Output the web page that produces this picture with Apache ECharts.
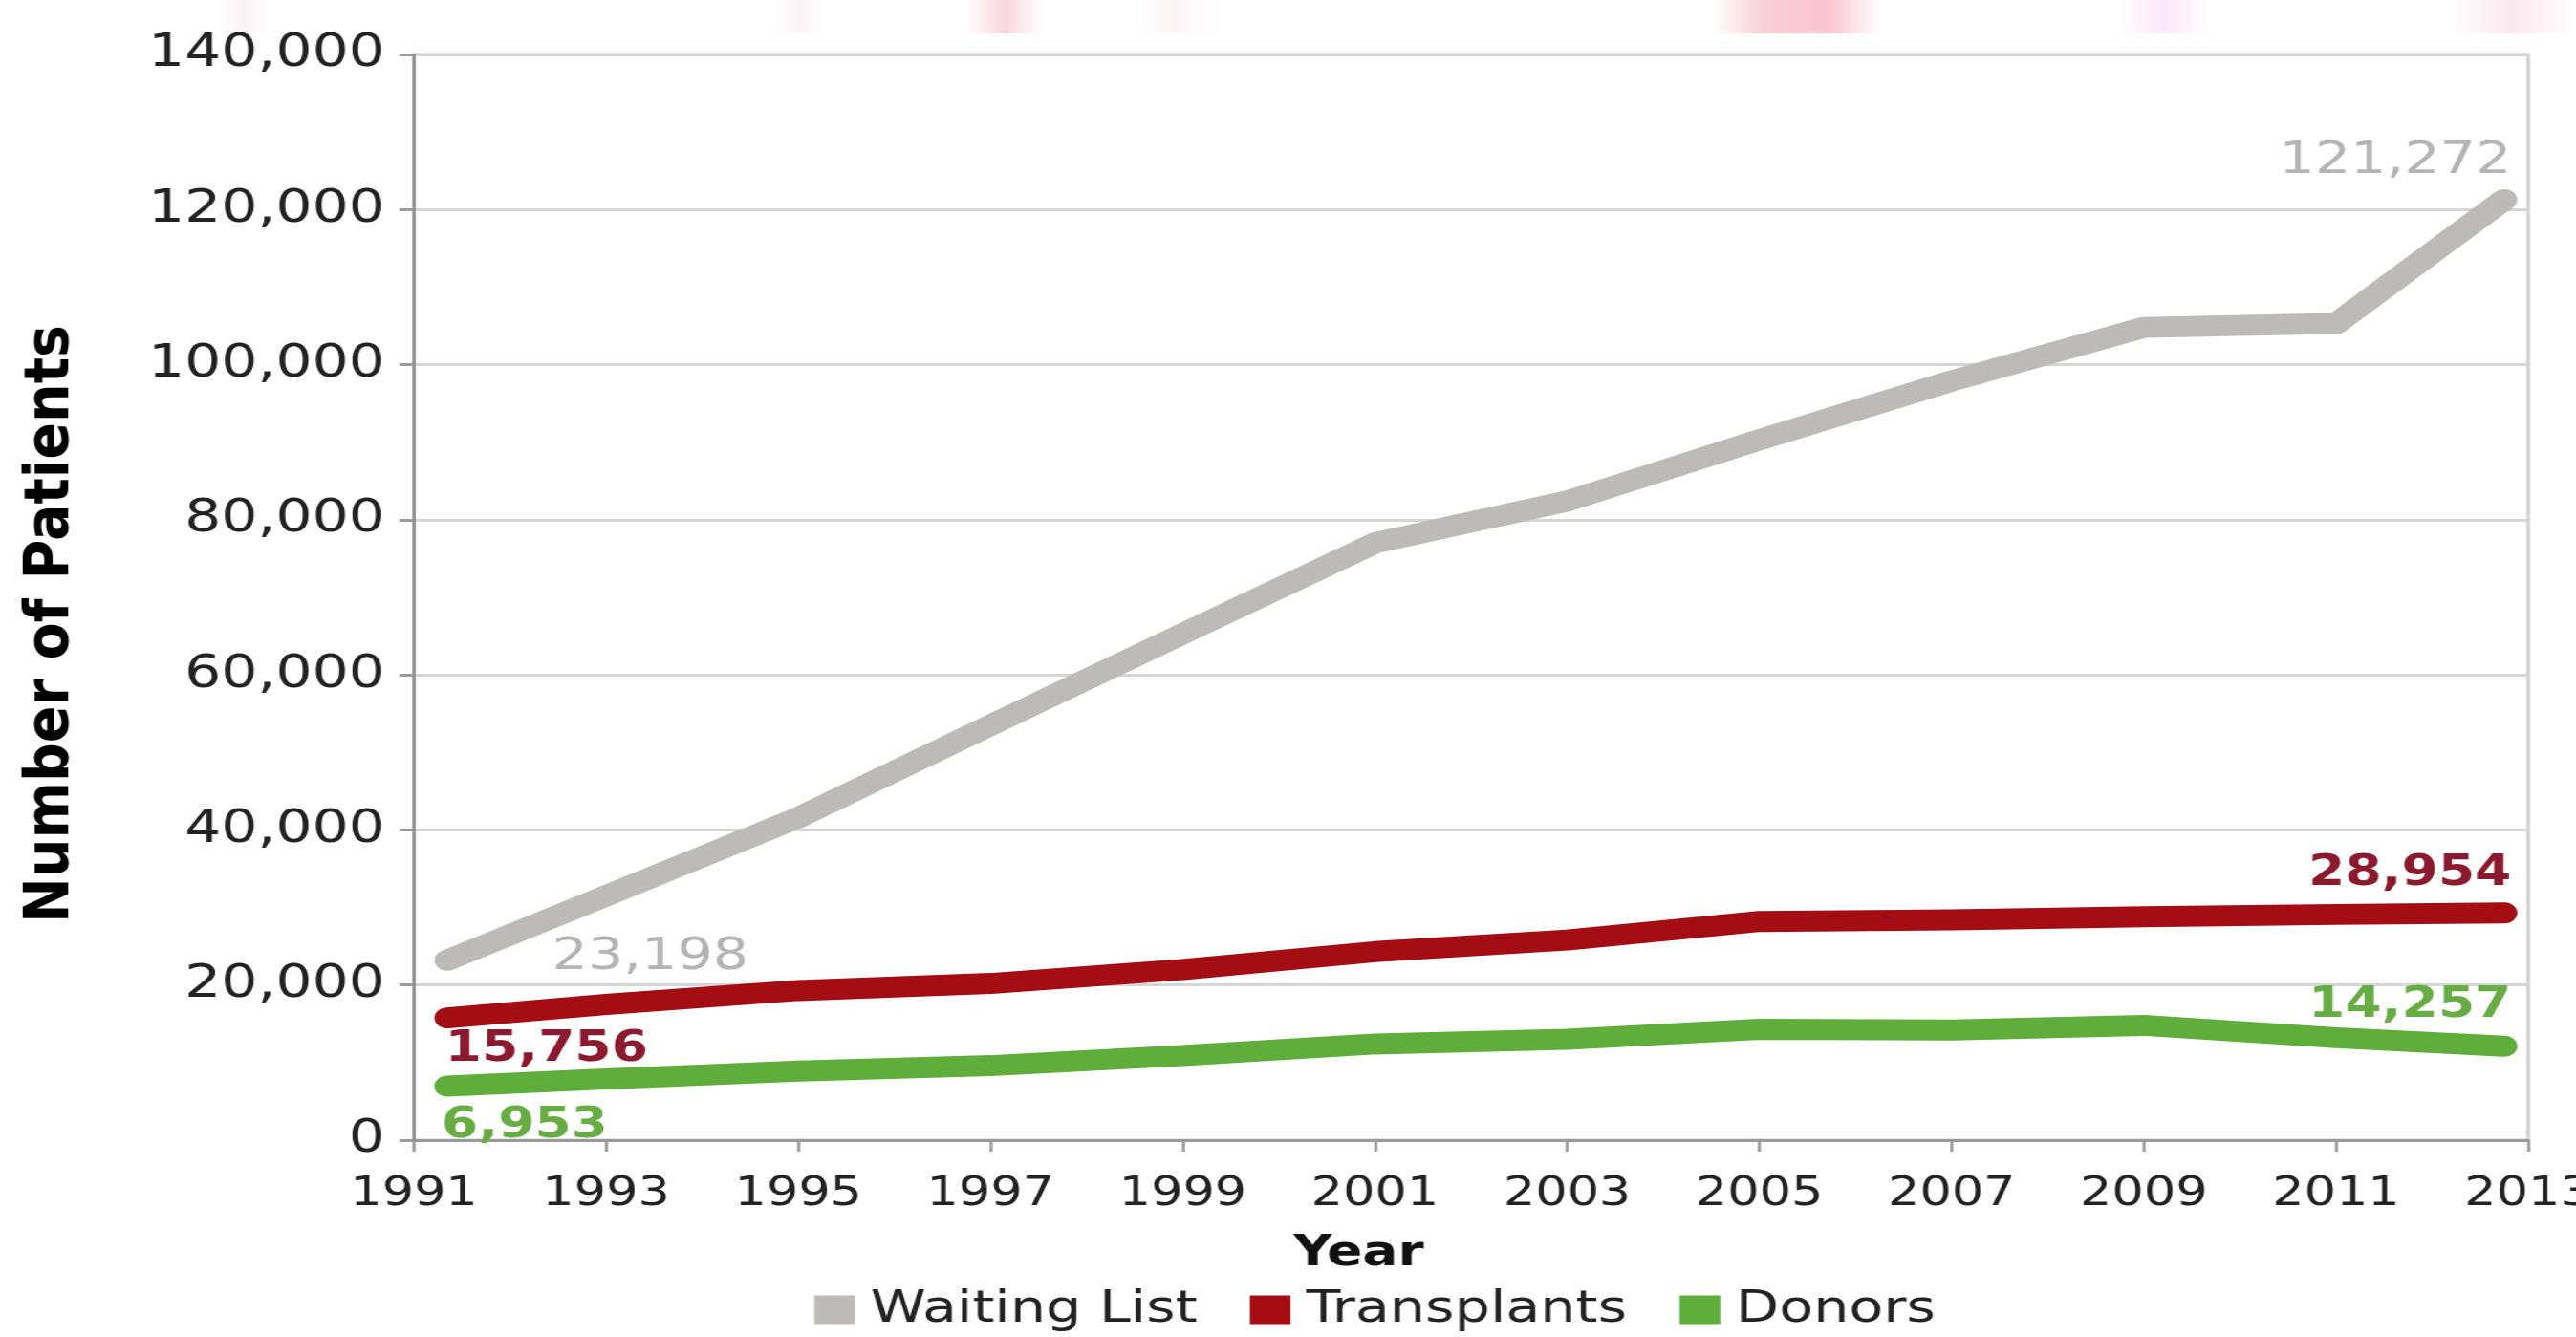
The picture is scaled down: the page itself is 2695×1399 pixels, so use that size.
<!DOCTYPE html>
<html>
<head>
<meta charset="utf-8">
<script src="https://cdn.jsdelivr.net/npm/echarts@6/dist/echarts.min.js"></script>
<style>
html,body{margin:0;padding:0;background:#fff;overflow:hidden;}
#wrap{width:2695px;height:1399px;overflow:hidden;position:relative;}
#chart{width:2156px;height:1399px;transform:scaleX(1.25);transform-origin:0 0;position:absolute;left:0;top:0;}
</style>
</head>
<body>
<div id="wrap"><div id="chart"></div></div>
<script>
// Data
const years = [1991.35, 1993, 1995, 1997, 1999, 2001, 2003, 2005, 2007, 2009, 2011, 2012.75];
const waitingList = [23198, 31500, 41600, 53500, 65300, 77000, 82400, 90300, 97900, 104800, 105300, 121272];
const transplants = [15756, 17500, 19300, 20200, 22000, 24300, 25800, 28200, 28400, 28800, 29100, 29300];
const donors = [6953, 7900, 8900, 9600, 10900, 12400, 13000, 14300, 14200, 14800, 13200, 12100];
const seriesNames = ['Waiting List', 'Transplants', 'Donors'];
const startLabels = ['23,198', '15,756', '6,953'];
const endLabels = ['121,272', '28,954', '14,257'];

const SX = 1.25; // the reference picture is stretched horizontally
const FONT = '"DejaVu Sans", sans-serif';
const lineColors = ['#bdbaba', '#a50d14', '#5fae3c'];
const labelColors = ['#b4b4b4', '#8b1a2e', '#67ad43'];

function buildData(vals, idx, startCfg, endCfg) {
  return years.map((x, i) => {
    const item = { value: [x, vals[i]] };
    if (i === 0) item.label = Object.assign({ show: true, formatter: startLabels[idx] }, startCfg);
    if (i === years.length - 1) item.label = Object.assign({ show: true, formatter: endLabels[idx] }, endCfg);
    return item;
  });
}

const baseLabel = (idx, bold, size) => ({
  color: labelColors[idx], fontSize: size, fontFamily: FONT, fontWeight: bold ? 'bold' : 'normal'
});

const lineSeries = (idx, vals, startCfg, endCfg) => ({
  name: seriesNames[idx], type: 'line', showSymbol: true, symbol: 'circle', symbolSize: 1, z: 2 + idx,
  itemStyle: { color: lineColors[idx] },
  lineStyle: { color: lineColors[idx], width: 22, cap: 'round', join: 'round' },
  emphasis: { disabled: true },
  data: buildData(vals, idx, startCfg, endCfg)
});

const chart = echarts.init(document.getElementById('chart'));
chart.setOption({
  animation: false,
  backgroundColor: '#ffffff',
  textStyle: { fontFamily: FONT },
  grid: { left: 433 / SX, right: 2156 - 2645 / SX, top: 57, bottom: 206, show: true,
    outerBoundsMode: 'none', containLabel: false,
    borderColor: '#d2d2d2', borderWidth: 3, backgroundColor: 'transparent' },
  xAxis: {
    type: 'value', min: 1991, max: 2013, interval: 2,
    axisLine: { show: true, lineStyle: { color: '#9a9a9a', width: 3 } },
    axisTick: { show: true, length: 12, lineStyle: { color: '#9a9a9a', width: 2.5 } },
    axisLabel: { fontSize: 42, color: '#222', margin: 36, formatter: v => String(v), fontFamily: FONT,
      hideOverlap: false },
    splitLine: { show: false },
    name: 'Year', nameLocation: 'middle', nameGap: 98,
    nameTextStyle: { fontSize: 44, fontWeight: 'bold', color: '#111', fontFamily: FONT, padding: [0, 188, 0, 0] }
  },
  yAxis: {
    type: 'value', min: 0, max: 140000, interval: 20000,
    axisLine: { show: true, lineStyle: { color: '#8a8a8a', width: 2.5 } },
    axisTick: { show: true, length: 12, lineStyle: { color: '#9a9a9a', width: 3 } },
    axisLabel: { fontSize: 48, color: '#222', margin: 24, fontFamily: FONT,
      formatter: v => v.toLocaleString('en-US') },
    splitLine: { show: true, lineStyle: { color: '#d6d6d6', width: 3 } }
  },
  legend: {
    left: 852 / SX, bottom: 5, padding: 0, itemWidth: 34, itemHeight: 30, itemGap: 44, icon: 'rect',
    textStyle: { fontSize: 47, lineHeight: 46, color: '#222', fontFamily: FONT, padding: [0, 0, 0, 8] },
    data: seriesNames
  },
  graphic: [
    { type: 'rect', z: -10, shape: { x: 0, y: 0, width: 2156, height: 35 },
      style: { fill: { type: 'linear', x: 0, y: 0, x2: 1, y2: 0, colorStops: [
        { offset: 0, color: '#ffffff' }, { offset: 0.085, color: '#ffffff' },
        { offset: 0.095, color: '#fcf1f4' }, { offset: 0.105, color: '#ffffff' },
        { offset: 0.30, color: '#ffffff' }, { offset: 0.31, color: '#fcf2f5' }, { offset: 0.32, color: '#ffffff' },
        { offset: 0.375, color: '#ffffff' }, { offset: 0.39, color: '#f9d6df' }, { offset: 0.405, color: '#ffffff' },
        { offset: 0.44, color: '#ffffff' }, { offset: 0.455, color: '#fdf4f6' }, { offset: 0.475, color: '#ffffff' },
        { offset: 0.665, color: '#ffffff' }, { offset: 0.685, color: '#f6d0d4' }, { offset: 0.71, color: '#fbc4d1' },
        { offset: 0.73, color: '#ffffff' }, { offset: 0.822, color: '#ffffff' }, { offset: 0.84, color: '#fbe8fa' },
        { offset: 0.858, color: '#ffffff' }, { offset: 0.95, color: '#ffffff' }, { offset: 0.975, color: '#fbe9f0' },
        { offset: 1, color: '#ffffff' } ] } } },
    { type: 'text', x: 55 / SX, y: 653, rotation: Math.PI / 2, scaleX: 1.12,
      style: { text: 'Number of Patients', font: 'bold 51px "DejaVu Sans", sans-serif', fill: '#000',
        textAlign: 'center', textVerticalAlign: 'middle' } }
  ],
  series: [
    lineSeries(0, waitingList,
      Object.assign({ position: 'right', distance: 87, offset: [0, -3] }, baseLabel(0, false, 47)),
      Object.assign({ position: 'top', align: 'right', distance: 16, offset: [6, 0] }, baseLabel(0, false, 47))),
    lineSeries(1, transplants,
      Object.assign({ position: 'bottom', align: 'left', distance: 11, offset: [-2, 0] }, baseLabel(1, true, 44)),
      Object.assign({ position: 'top', align: 'right', distance: 18, offset: [6, 0] }, baseLabel(1, true, 44))),
    lineSeries(2, donors,
      Object.assign({ position: 'bottom', align: 'left', distance: 19, offset: [-5, 0] }, baseLabel(2, true, 44)),
      Object.assign({ position: 'top', align: 'right', distance: 20, offset: [6, 0] }, baseLabel(2, true, 44)))
  ]
});
</script>
</body>
</html>
